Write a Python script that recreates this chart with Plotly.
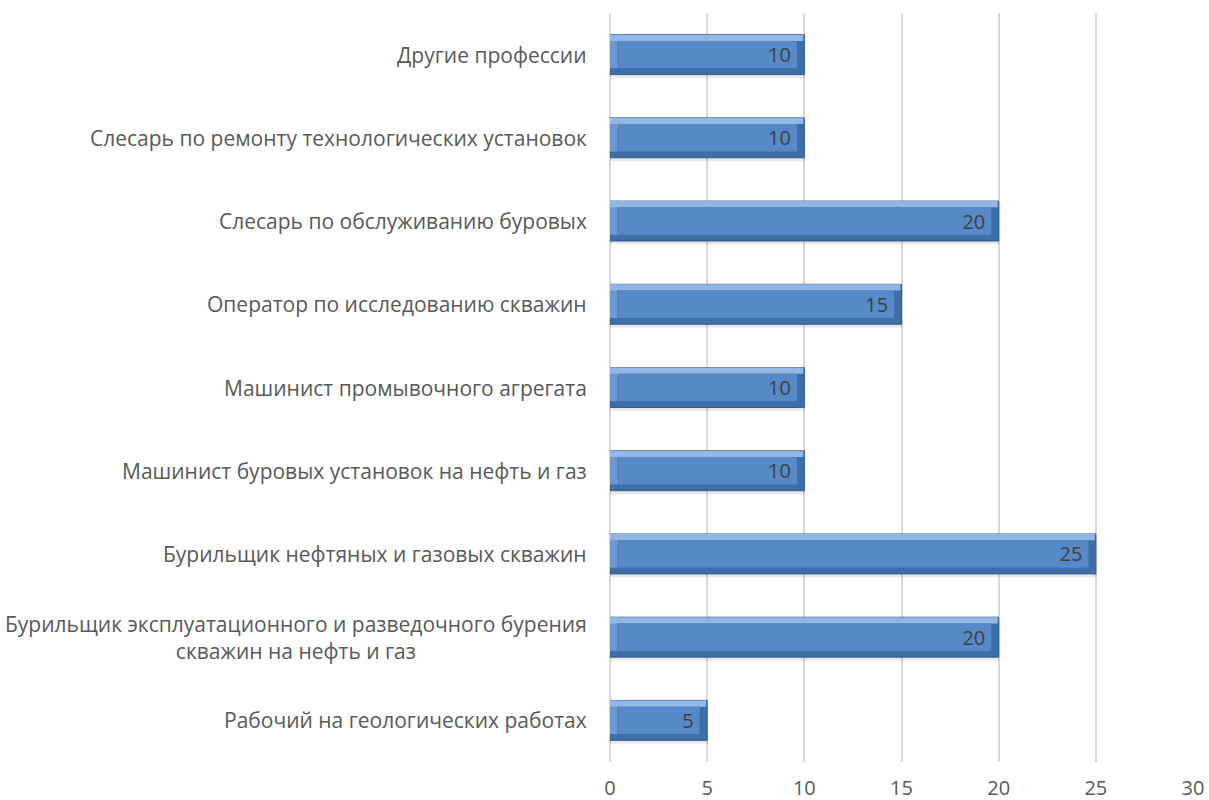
import plotly.graph_objects as go

categories = [
    "Рабочий на геологических работах",
    "Бурильщик эксплуатационного и разведочного бурения<br>скважин на нефть и газ",
    "Бурильщик нефтяных и газовых скважин",
    "Машинист буровых установок на нефть и газ",
    "Машинист промывочного агрегата",
    "Оператор по исследованию скважин",
    "Слесарь по обслуживанию буровых",
    "Слесарь по ремонту технологических установок",
    "Другие профессии",
]
values = [5, 20, 25, 10, 10, 15, 20, 10, 10]
x_ticks = [0, 5, 10, 15, 20, 25, 30]

FONT = "Open Sans"
BW = 0.48
EDGE = 0.075   # bevel thickness in category units
XEDGE = 0.38   # bevel thickness in value units
n = len(values)

fig = go.Figure()
# soft shadow
fig.add_trace(go.Bar(
    y=categories, x=[v + 0.06 for v in values], orientation="h",
    width=BW, offset=-BW / 2 - 0.04,
    marker=dict(color="rgba(0,0,0,0.09)", line=dict(width=0)),
    hoverinfo="skip",
))
# main body (dark base -> bottom & right bevel)
fig.add_trace(go.Bar(
    y=categories, x=values, orientation="h",
    width=BW, offset=-BW / 2,
    marker=dict(color="#3F6DA5", line=dict(color="#375E8C", width=1)),
    hoverinfo="skip",
))
# left bevel (mid-light)
fig.add_trace(go.Bar(
    y=categories, x=[XEDGE] * n, orientation="h",
    width=BW - EDGE, offset=-BW / 2 + EDGE,
    marker=dict(color="#6C99D2", line=dict(width=0)),
    hoverinfo="skip",
))
# top light bevel
fig.add_trace(go.Bar(
    y=categories, x=[v - 0.05 for v in values], orientation="h",
    width=EDGE, offset=BW / 2 - EDGE,
    marker=dict(color="#93B7E5", line=dict(width=0)),
    hoverinfo="skip",
))
# face
fig.add_trace(go.Bar(
    y=categories, x=[v - 2 * XEDGE for v in values], base=[XEDGE] * n,
    orientation="h",
    width=BW - 2 * EDGE, offset=-BW / 2 + EDGE,
    marker=dict(color="#5689C8", line=dict(width=0)),
    hoverinfo="skip",
))
# labels
fig.add_trace(go.Bar(
    y=categories, x=values, orientation="h",
    width=BW, offset=-BW / 2,
    marker=dict(color="rgba(0,0,0,0)", line=dict(width=0)),
    text=[f"{v}  " for v in values],
    textposition="inside", insidetextanchor="end",
    textfont=dict(family=FONT, size=20, color="#404040"),
))

for c in categories:
    fig.add_annotation(
        x=0, xref="paper", y=c, yref="y", text=c, showarrow=False,
        xanchor="right", xshift=-21, align="center",
        font=dict(family=FONT, size=21, color="#595959"),
    )

fig.update_layout(
    width=1209, height=800,
    margin=dict(l=610, r=16, t=13, b=38),
    paper_bgcolor="white", plot_bgcolor="white",
    showlegend=False, barmode="overlay",
    font=dict(family=FONT, size=20, color="#595959"),
)
fig.update_xaxes(
    range=[0, 30], tickvals=x_ticks, showgrid=True, gridcolor="#D9D9D9", gridwidth=1.5,
    zeroline=True, zerolinecolor="#D9D9D9", zerolinewidth=1.5, showline=False,
    ticklabelstandoff=12, tickfont=dict(family=FONT, size=20, color="#595959"),
    automargin=False,
)
fig.update_yaxes(
    categoryorder="array", categoryarray=categories,
    showgrid=False, showline=False, ticks="", showticklabels=False, automargin=False,
)
fig.write_html("out.html")
